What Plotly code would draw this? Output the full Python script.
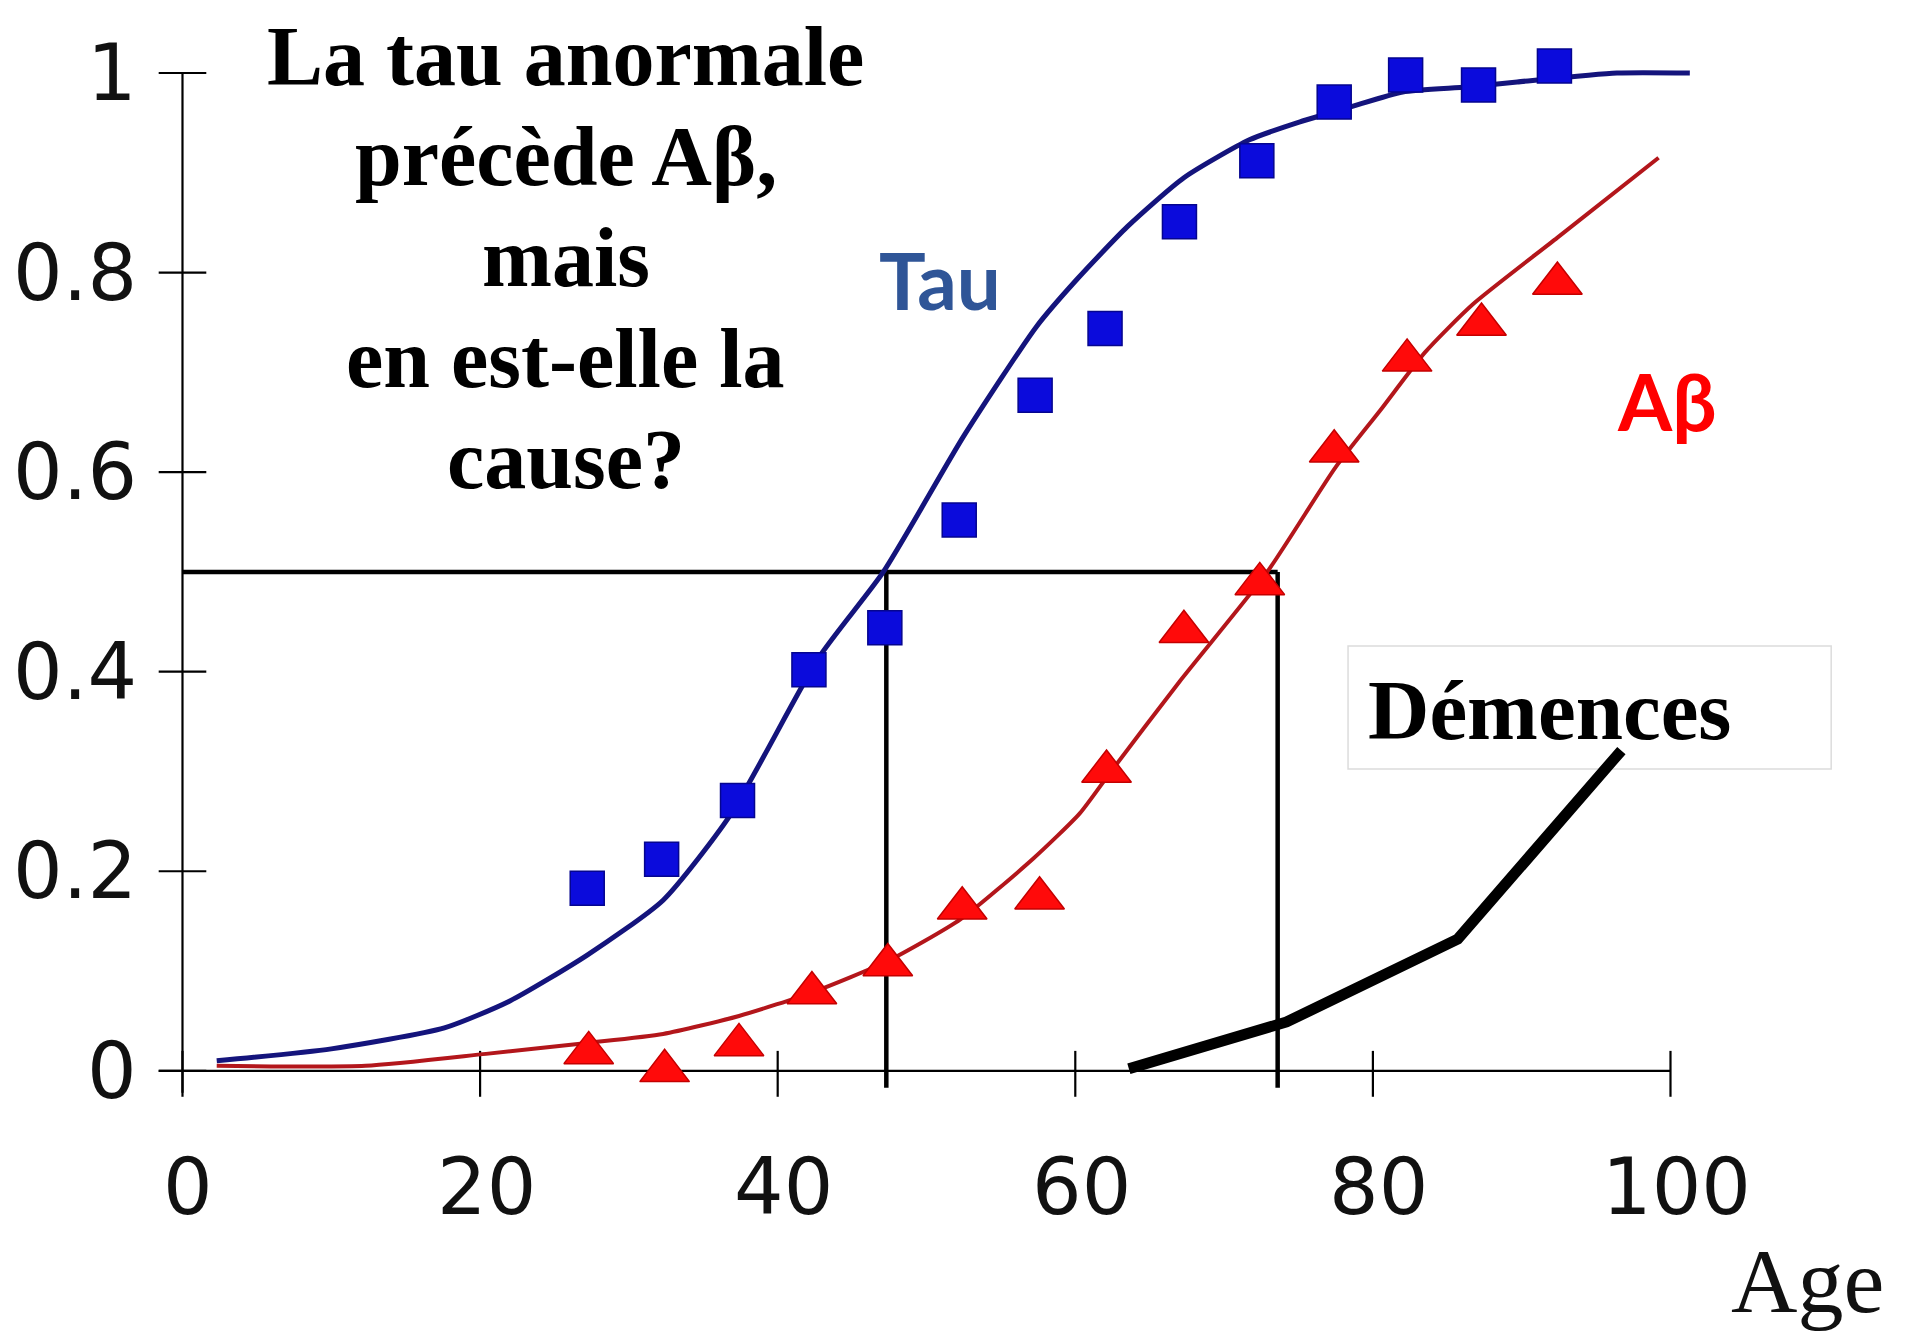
import plotly.graph_objects as go

# ---------------- data ----------------
tau_age = [27.2, 32.2, 37.3, 42.1, 47.2, 52.2, 57.3, 62.0, 67.0, 72.2, 77.4, 82.2, 87.1, 92.2]
tau_val = [0.183, 0.212, 0.271, 0.402, 0.444, 0.552, 0.677, 0.744, 0.851, 0.912, 0.971, 0.998, 0.988, 1.007]

abeta_age = [27.3, 32.4, 37.4, 42.3, 47.4, 52.4, 57.6, 62.1, 67.3, 72.4, 77.4, 82.3, 87.3, 92.4]
abeta_val = [0.018, 0.0, 0.026, 0.078, 0.106, 0.163, 0.173, 0.3, 0.44, 0.488, 0.621, 0.712, 0.748, 0.789]

tau_fit_age = [2.3, 10, 17.6, 22, 27.2, 32.3, 36.8, 42.8, 47.1, 52.5, 57.4, 60.1, 63.5, 67.3,
               71.7, 75.1, 78.5, 82.0, 86.3, 89.7, 96.4, 101.3]
tau_fit_val = [0.01, 0.022, 0.043, 0.07, 0.116, 0.171, 0.256, 0.415, 0.5, 0.636, 0.746, 0.793,
               0.846, 0.895, 0.933, 0.951, 0.966, 0.981, 0.986, 0.991, 1.0, 1.0]

abeta_fit_age = [2.3, 12.3, 20.4, 27.2, 32.3, 37.4, 42.4, 47.4, 52.3, 57.2, 60.3, 62.3, 67.0,
                 72.9, 77.5, 80.5, 83.5, 86.7, 92.4, 99.2]
abeta_fit_val = [0.005, 0.005, 0.017, 0.028, 0.037, 0.055, 0.079, 0.11, 0.152, 0.213, 0.258,
                 0.298, 0.39, 0.5, 0.605, 0.662, 0.72, 0.768, 0.835, 0.915]

dementia_age = [63.6, 74.2, 85.7, 96.7]
dementia_val = [0.002, 0.049, 0.132, 0.321]

half_level = 0.5
half_ages = [47.3, 73.6]

x_ticks = [0, 20, 40, 60, 80, 100]
y_ticks = [0, 0.2, 0.4, 0.6, 0.8, 1]
y_tick_text = ["0", "0.2", "0.4", "0.6", "0.8", "1"]

title_lines = ["La tau anormale", "précède Aβ,", "mais", "en est-elle la", "cause?"]
x_label = "Age"
tau_label = "Tau"
abeta_label = "Aβ"
dementia_label = "Démences"

# ---------------- figure ----------------
W, H = 1908, 1340
X_RANGE = [-5.544, 114.08]
Y_RANGE = [-0.2497, 1.0531]

fig = go.Figure()

# reference lines at 50 %
fig.add_trace(go.Scatter(x=[0, half_ages[1]], y=[half_level, half_level], mode="lines",
                         line=dict(color="black", width=4.5), hoverinfo="skip"))
for a in half_ages:
    fig.add_trace(go.Scatter(x=[a, a], y=[half_level, -0.017], mode="lines",
                             line=dict(color="black", width=4.5), hoverinfo="skip"))

# axes drawn in data coordinates
fig.add_trace(go.Scatter(x=[0, 0], y=[-0.022, 1], mode="lines",
                         line=dict(color="black", width=2.2), hoverinfo="skip"))
fig.add_trace(go.Scatter(x=[-1.6, 100], y=[0, 0], mode="lines",
                         line=dict(color="black", width=2.2), hoverinfo="skip"))
for t in y_ticks:
    fig.add_trace(go.Scatter(x=[-1.6, 1.6], y=[t, t], mode="lines",
                             line=dict(color="black", width=2.2), hoverinfo="skip"))
for t in x_ticks:
    fig.add_trace(go.Scatter(x=[t, t], y=[-0.026, 0.02], mode="lines",
                             line=dict(color="black", width=2.2), hoverinfo="skip"))

# fitted curves
fig.add_trace(go.Scatter(x=tau_fit_age, y=tau_fit_val, mode="lines", line_shape="spline",
                         line=dict(color="#14147c", width=5, smoothing=0.6), hoverinfo="skip"))
fig.add_trace(go.Scatter(x=abeta_fit_age, y=abeta_fit_val, mode="lines", line_shape="spline",
                         line=dict(color="#b3161b", width=4, smoothing=0.6), hoverinfo="skip"))

# data markers
fig.add_trace(go.Scatter(x=tau_age, y=tau_val, mode="markers",
                         marker=dict(symbol="square", size=34, color="#0b0bdc",
                                     line=dict(color="#05058f", width=1.5)),
                         cliponaxis=False))
fig.add_trace(go.Scatter(x=abeta_age, y=abeta_val, mode="markers",
                         marker=dict(symbol="triangle-up", size=43, color="#ff0a0a",
                                     line=dict(color="#c40000", width=1.5)),
                         cliponaxis=False))

# dementia curve
fig.add_trace(go.Scatter(x=dementia_age, y=dementia_val, mode="lines",
                         line=dict(color="black", width=11), hoverinfo="skip"))

shapes = [dict(type="rect", xref="x", yref="y", x0=78.33, x1=110.8, y0=0.3025, y1=0.4257,
               line=dict(color="#dcdcdc", width=1.5), fillcolor="rgba(0,0,0,0)", layer="below")]

annotations = []
tick_font = dict(family="DejaVu Sans", size=78, color="#111111")
for t in x_ticks:
    annotations.append(dict(x=t + 0.4, y=-0.116, xref="x", yref="y", text=str(t),
                            showarrow=False, font=tick_font, xanchor="center", yanchor="middle"))
for t, s in zip(y_ticks, y_tick_text):
    annotations.append(dict(x=-2.9, y=t, xref="x", yref="y", text=s,
                            showarrow=False, font=tick_font, xanchor="right", yanchor="middle"))

serif_bold = dict(family="Liberation Serif", size=84, color="black")
for i, line in enumerate(title_lines):
    annotations.append(dict(x=25.77, y=1.017 - i * 0.1010, xref="x", yref="y",
                            text="<b>" + line + "</b>", showarrow=False, font=serif_bold,
                            xanchor="center", yanchor="middle"))

annotations.append(dict(x=91.85, y=0.3616, xref="x", yref="y", text="<b>" + dementia_label + "</b>",
                        showarrow=False, font=dict(family="Liberation Serif", size=85, color="black"),
                        xanchor="center", yanchor="middle"))
annotations.append(dict(x=109.2, y=-0.211, xref="x", yref="y", text=x_label, showarrow=False,
                        font=dict(family="Liberation Serif", size=92, color="#111111"),
                        xanchor="center", yanchor="middle"))
annotations.append(dict(x=50.9, y=0.793, xref="x", yref="y", text="<b>" + tau_label + "</b>",
                        showarrow=False, font=dict(family="Lato", size=78, color="#2f5597"),
                        xanchor="center", yanchor="middle"))
annotations.append(dict(x=99.75, y=0.671, xref="x", yref="y", text="<b>" + abeta_label + "</b>",
                        showarrow=False, font=dict(family="Lato", size=78, color="#ff0000"),
                        xanchor="center", yanchor="middle"))

fig.update_layout(
    width=W, height=H,
    margin=dict(l=92, r=36, t=12, b=28),
    paper_bgcolor="white", plot_bgcolor="white",
    showlegend=False,
    xaxis=dict(range=X_RANGE, visible=False, fixedrange=True),
    yaxis=dict(range=Y_RANGE, visible=False, fixedrange=True),
    shapes=shapes,
    annotations=annotations,
)

fig.write_html("out.html")
